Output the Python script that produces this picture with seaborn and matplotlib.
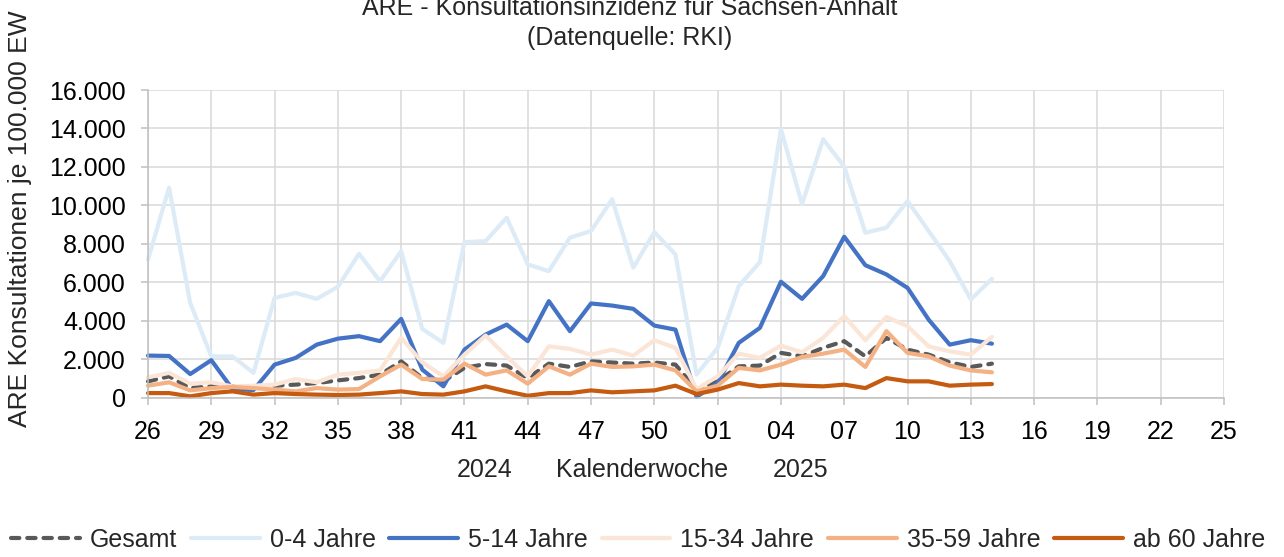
import numpy as np
import pandas as pd
import matplotlib
matplotlib.use("Agg")
import matplotlib.pyplot as plt
import seaborn as sns

# ---- data ----
weeks_2024 = ["26", "27", "28", "29", "30", "31", "32", "33", "34", "35", "36", "37", "38",
              "39", "40", "41", "42", "43", "44", "45", "46", "47", "48", "49", "50", "51", "52"]
weeks_2025 = ["01", "02", "03", "04", "05", "06", "07", "08", "09", "10", "11", "12", "13",
              "14", "15", "16", "17", "18", "19", "20", "21", "22", "23", "24", "25"]

gesamt = [850, 1110, 500, 590, 590, 560, 625, 680, 760, 900, 1020, 1200, 1890, 1020, 850,
          1550, 1750, 1670, 1020, 1770, 1600, 1890, 1830, 1770, 1830, 1720, 420,
          850, 1630, 1670, 2330, 2150, 2590, 2940, 2150, 3110, 2500, 2240, 1840, 1600, 1770]
age_0_4 = [7190, 10920, 4930, 2150, 2150, 1290, 5190, 5450, 5140, 5770, 7480, 6060, 7620, 3580,
           2850, 8090, 8140, 9360, 6930, 6580, 8320, 8670, 10320, 6760, 8610, 7450, 1200,
           2590, 5800, 7050, 13960, 10060, 13440, 12020, 8580, 8840, 10230, 8670, 7100, 5110, 6180]
age_5_14 = [2190, 2170, 1230, 1950, 450, 400, 1720, 2070, 2760, 3070, 3200, 2940, 4100, 1460,
            590, 2500, 3280, 3800, 2940, 5020, 3460, 4900, 4790, 4620, 3750, 3540, 50,
            760, 2850, 3630, 6030, 5140, 6320, 8370, 6890, 6410, 5710, 4060, 2760, 2990, 2810]
age_15_34 = [1060, 1290, 730, 800, 590, 625, 680, 970, 800, 1200, 1290, 1420, 3110, 1840, 1110,
             2240, 3230, 2150, 1110, 2670, 2540, 2240, 2500, 2190, 2990, 2590, 450,
             1110, 2290, 2070, 2710, 2360, 3110, 4240, 2990, 4200, 3720, 2670, 2410, 2240, 3160]
age_35_59 = [625, 800, 380, 500, 560, 500, 420, 330, 500, 420, 450, 1110, 1720, 970, 940,
             1770, 1200, 1420, 730, 1630, 1200, 1770, 1600, 1630, 1720, 1420, 330,
             625, 1550, 1420, 1720, 2120, 2290, 2500, 1600, 3460, 2330, 2150, 1670, 1420, 1320]
age_60 = [240, 240, 70, 240, 330, 160, 240, 190, 160, 140, 160, 240, 330, 190, 160, 330, 590,
          330, 100, 240, 240, 380, 280, 330, 380, 625, 190,
          420, 760, 590, 680, 625, 590, 680, 500, 1020, 850, 850, 625, 680, 710]

series_names = ["Gesamt", "0-4 Jahre", "5-14 Jahre", "15-34 Jahre", "35-59 Jahre", "ab 60 Jahre"]
series_values = [gesamt, age_0_4, age_5_14, age_15_34, age_35_59, age_60]
series_colors = ["#595959", "#DDEBF7", "#4472C4", "#FBE5D6", "#F4B183", "#C55A11"]

y_ticks = [0, 2000, 4000, 6000, 8000, 10000, 12000, 14000, 16000]
y_tick_labels = ["0", "2.000", "4.000", "6.000", "8.000", "10.000", "12.000", "14.000", "16.000"]

all_weeks = weeks_2024 + weeks_2025

# ---- figure ----
sns.set_theme(style="white")
plt.rcParams["font.family"] = ["Liberation Sans", "DejaVu Sans"]

fig = plt.figure(figsize=(12.84, 5.57), dpi=100)
ax = fig.add_axes([148 / 1284, 1 - 397.7 / 557, (1224 - 148) / 1284, (397.7 - 90) / 557])

rows = []
for name, vals in zip(series_names, series_values):
    for i, v in enumerate(vals):
        rows.append({"pos": i, "week": all_weeks[i], "serie": name, "wert": v})
df = pd.DataFrame(rows)

for name, color in zip(series_names, series_colors):
    sub = df[df["serie"] == name]
    kws = dict(color=color, linewidth=3.0, ax=ax, clip_on=False, legend=False,
               solid_capstyle="round", solid_joinstyle="round")
    if name == "Gesamt":
        kws["linestyle"] = (0, (2.0, 1.9))
    sns.lineplot(data=sub, x="pos", y="wert", **kws)
    line = ax.get_lines()[-1]
    line.set_label(name)
    if name == "Gesamt":
        line.set_dash_capstyle("round")

ax.set_xlim(0, len(all_weeks) - 1)
ax.set_ylim(0, 16000)
tick_pos = list(range(0, len(all_weeks), 3))
ax.set_xticks(tick_pos)
ax.set_xticklabels([all_weeks[p] for p in tick_pos])
ax.set_yticks(y_ticks)
ax.set_yticklabels(y_tick_labels)
ax.set_xlabel("")
ax.set_ylabel("")

ax.grid(True, color="#D9D9D9", linewidth=1.1)
ax.set_axisbelow(True)
for s in ["top", "right"]:
    ax.spines[s].set_visible(False)
for s in ["left", "bottom"]:
    ax.spines[s].set_color("#BFBFBF")
    ax.spines[s].set_linewidth(1.1)
ax.tick_params(axis="both", direction="out", length=5, width=1.1, color="#BFBFBF",
               labelsize=18, labelcolor="black")
ax.tick_params(axis="y", pad=11, left=True)
ax.tick_params(axis="x", pad=11, bottom=True)

# titles and labels
fig.text(630 / 1284, 1 - 8 / 557, "ARE - Konsultationsinzidenz für Sachsen-Anhalt",
         ha="center", va="center", fontsize=18)
fig.text(630 / 1284, 1 - 38 / 557, "(Datenquelle: RKI)", ha="center", va="center", fontsize=18)
fig.text(20 / 1284, 1 - 219 / 557, "ARE Konsultationen je 100.000 EW", rotation=90,
         ha="center", va="center", fontsize=19)
fig.text(485 / 1284, 1 - 470 / 557, "2024", ha="center", va="center", fontsize=18)
fig.text(642 / 1284, 1 - 470 / 557, "Kalenderwoche", ha="center", va="center", fontsize=18)
fig.text(801 / 1284, 1 - 470 / 557, "2025", ha="center", va="center", fontsize=18)

handles = ax.get_lines()[:len(series_names)]
fig.legend(handles, series_names, loc="center", bbox_to_anchor=(638 / 1284, 1 - 540 / 557),
           ncol=6, frameon=False, fontsize=18, handlelength=2.75, handletextpad=0.4,
           columnspacing=0.55, borderpad=0, borderaxespad=0)

fig.savefig("out.png", dpi=100)
